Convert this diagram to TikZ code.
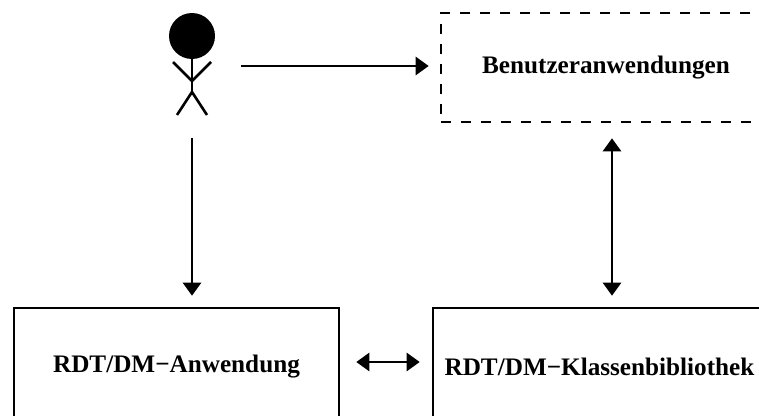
\documentclass[tikz,border=0pt]{standalone}
\usepackage{fontspec}
\setmainfont{Liberation Serif}
\usetikzlibrary{arrows.meta, positioning}

\tikzset{
    box/.style={draw, line width=2.6pt, inner sep=0pt, minimum height=118pt},
    dashbox/.style={draw, line width=2.6pt, inner sep=0pt, dash pattern=on 10pt off 10pt, minimum width=330pt, minimum height=109pt},
    boxtext/.style={inner sep=0pt, font=\fontsize{25.2pt}{28pt}\selectfont\bfseries},
    link/.style={line width=2.6pt, -{Triangle[length=13pt,width=18pt]}},
    duplex/.style={line width=2.6pt, {Triangle[length=13pt,width=18pt]}-{Triangle[length=13pt,width=18pt]}},
    limb/.style={line width=2.6pt}
}

\begin{document}
\begin{tikzpicture}[x=1pt,y=-1pt]

\useasboundingbox (0,0) rectangle (759,415);
\clip (0,0) rectangle (759,415);

% Stick figure
\fill (192,36) circle (23);
\coordinate (neck) at (192,59);
\coordinate (hip) at (192,92);
\draw[limb] (neck) -- (hip);
\draw[limb] (173,62) -- (192,81) -- (211,62);
\draw[limb] (177,115) -- (hip) -- (207,115);
\coordinate (actorright) at (241,66);
\coordinate (actorfoot) at (192,138);

% Boxes, the lower ones and the upper one run off the page
\node[box, minimum width=325pt, boxtext] (anwendung) at (176.5,367) {RDT/DM−Anwendung};
\node[box, minimum width=340pt] (klassen) at (603,367) {};
\node[boxtext] (klassentext) at (599.5,367) {RDT/DM−Klassenbibliothek};
\node[dashbox, boxtext] (benutzer) at (606,67.5) {Benutzeranwendungen};

% Arrows
\draw[link, shorten >=11pt] (actorright) -- (actorright -| benutzer.west);
\draw[link, shorten >=11pt] (actorfoot) -- (actorfoot |- anwendung.north);
\coordinate (busx) at (612,0);
\draw[duplex, shorten <=15pt, shorten >=11pt] (busx |- benutzer.south) -- (busx |- klassen.north);
\draw[duplex, shorten <=16pt, shorten >=12pt] ([yshift=5pt]anwendung.east) -- ([yshift=5pt]klassen.west);

\end{tikzpicture}
\end{document}
